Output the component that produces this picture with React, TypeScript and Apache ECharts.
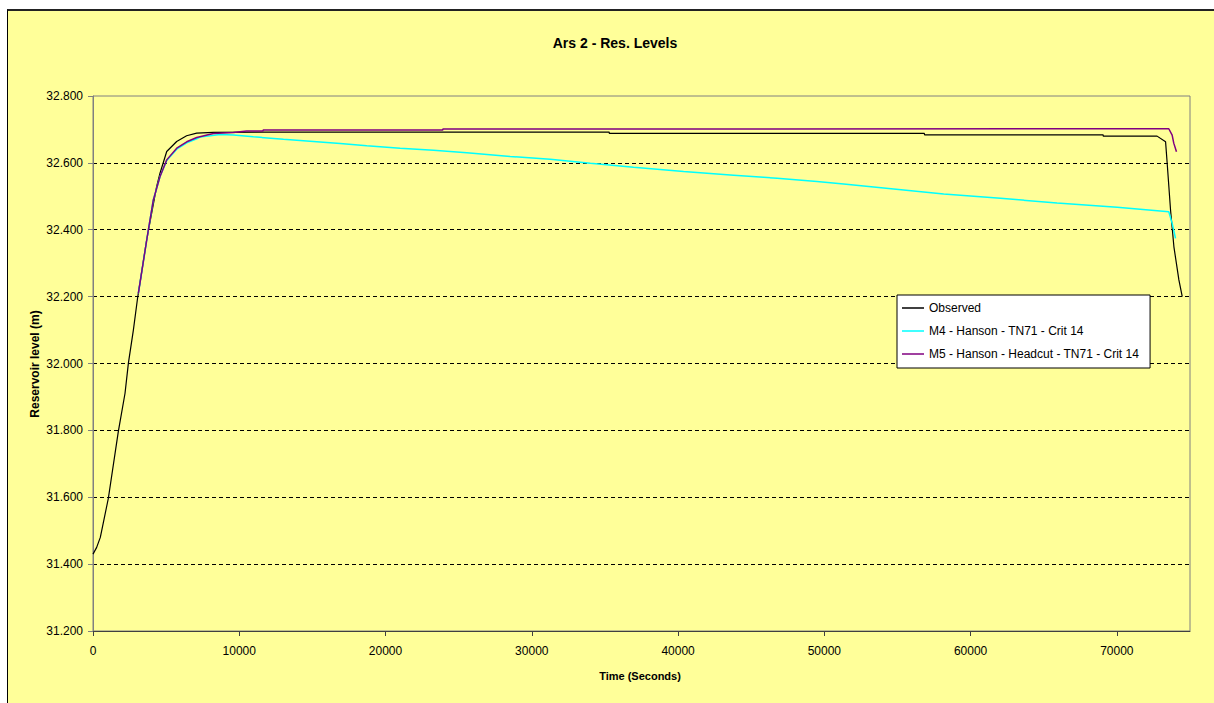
import React, { useEffect, useRef } from "react";
import * as echarts from "echarts";

const titleText = "Ars 2 - Res. Levels";
const xAxisTitle = "Time (Seconds)";
const yAxisTitle = "Reservoir level (m)";
const seriesNames = [
  "Observed",
  "M4 - Hanson - TN71 - Crit 14",
  "M5 - Hanson - Headcut - TN71 - Crit 14",
];

const obsT = [0, 250, 500, 1050, 1730, 2190, 2420, 2760, 3055, 3280, 3670, 3800, 4350, 4580, 5040, 5720, 6400, 7090, 8230, 12800, 35290, 35300, 56840, 56850, 69060, 69070, 72750, 73330, 73440, 73670, 73900, 74240, 74470];
const obsV = [31.43, 31.45, 31.48, 31.597, 31.796, 31.911, 32.001, 32.1, 32.198, 32.26, 32.37, 32.4, 32.529, 32.569, 32.634, 32.664, 32.681, 32.689, 32.691, 32.692, 32.692, 32.688, 32.688, 32.684, 32.684, 32.68, 32.68, 32.663, 32.599, 32.459, 32.349, 32.25, 32.2];

const m4T = [3100, 3280, 3785, 4124, 4583, 5041, 5725, 6409, 7093, 7320, 8690, 9600, 10965, 13020, 14840, 16900, 18720, 21000, 23280, 25560, 28520, 31260, 34000, 36960, 40380, 43800, 46770, 49500, 51320, 54740, 58160, 62040, 65910, 70020, 73550, 73780, 74010];
const m4V = [32.21, 32.26, 32.4, 32.489, 32.559, 32.607, 32.641, 32.66, 32.672, 32.677, 32.685, 32.683, 32.678, 32.671, 32.665, 32.658, 32.651, 32.644, 32.638, 32.63, 32.619, 32.611, 32.599, 32.587, 32.574, 32.563, 32.554, 32.544, 32.537, 32.522, 32.507, 32.494, 32.48, 32.467, 32.454, 32.419, 32.374];

const m5T = [3100, 3280, 3785, 4124, 4583, 5041, 5725, 6409, 7093, 8229, 9600, 10500, 11620, 11630, 23910, 23920, 73550, 73780, 73890, 74075];
const m5V = [32.21, 32.26, 32.4, 32.489, 32.559, 32.609, 32.644, 32.663, 32.676, 32.688, 32.691, 32.695, 32.695, 32.698, 32.698, 32.701, 32.702, 32.683, 32.659, 32.633];

const seriesColors = ["#000000", "#00FFFF", "#800080"];

const zip = (t: number[], v: number[]) => t.map((x, i) => [x, v[i]]);

const FONT = "'Liberation Sans', Arial, sans-serif";

export default function App() {
  const ref = useRef<HTMLDivElement>(null);
  useEffect(() => {
    if (!ref.current) return;
    const chart = echarts.init(ref.current, undefined, { renderer: "svg" });
    const datasets = [zip(obsT, obsV), zip(m4T, m4V), zip(m5T, m5V)];
    chart.setOption({
      animation: false,
      backgroundColor: "#FFFF99",
      grid: {
        left: 85,
        right: 24,
        top: 85,
        bottom: 72,
        show: true,
        borderColor: "#808080",
        borderWidth: 1,
        backgroundColor: "transparent",
      },
      graphic: [
        {
          type: "text",
          x: 607,
          y: 32,
          style: {
            text: titleText,
            font: `bold 14px ${FONT}`,
            fill: "#000",
            align: "center",
            verticalAlign: "middle",
          },
        },
        {
          type: "text",
          x: 632,
          y: 665,
          style: {
            text: xAxisTitle,
            font: `bold 11px ${FONT}`,
            fill: "#000",
            align: "center",
            verticalAlign: "middle",
          },
        },
        {
          type: "text",
          x: 27,
          y: 353,
          rotation: Math.PI / 2,
          style: {
            text: yAxisTitle,
            font: `bold 12px ${FONT}`,
            fill: "#000",
            align: "center",
            verticalAlign: "middle",
          },
        },
      ],
      legend: {
        orient: "vertical",
        left: 889,
        top: 284,
        data: seriesNames.map((n, i) => ({ name: n, icon: "rect", itemStyle: { color: seriesColors[i] } })),
        backgroundColor: "#FFFFFF",
        borderColor: "#000000",
        borderWidth: 1,
        borderRadius: 0,
        padding: [6, 11, 7, 5],
        itemWidth: 22,
        itemHeight: 1.5,
        itemGap: 9,
        textStyle: { fontFamily: FONT, fontSize: 12, color: "#000", lineHeight: 14 },
      },
      xAxis: {
        type: "value",
        min: 0,
        max: 75000,
        interval: 10000,
        axisLine: { show: true, onZero: false, lineStyle: { color: "#404040", width: 1 } },
        axisTick: { show: true, inside: false, length: 5, lineStyle: { color: "#404040" } },
        axisLabel: {
          margin: 14,
          showMaxLabel: false,
          fontFamily: FONT,
          fontSize: 12,
          color: "#000",
          formatter: (v: number) => String(v),
        },
        splitLine: { show: false },
      },
      yAxis: {
        type: "value",
        min: 31.2,
        max: 32.8,
        interval: 0.2,
        axisLine: { show: true, lineStyle: { color: "#808080", width: 1 } },
        axisTick: { show: true, inside: false, length: 5, lineStyle: { color: "#808080" } },
        axisLabel: {
          margin: 10,
          fontFamily: FONT,
          fontSize: 12,
          color: "#000",
          formatter: (v: number) => v.toFixed(3),
        },
        splitLine: {
          show: true,
          showMinLine: false,
          showMaxLine: false,
          lineStyle: { color: "#000", type: [4, 3], width: 1 },
        },
      },
      series: datasets.map((d, i) => ({
        name: seriesNames[i],
        type: "line",
        data: d,
        symbol: "none",
        showSymbol: false,
        lineStyle: { color: seriesColors[i], width: i === 0 ? 1.2 : 1.5 },
        itemStyle: { color: seriesColors[i] },
        z: 2 + i,
      })),
    });
    return () => chart.dispose();
  }, []);
  return (
    <div
      style={{
        position: "fixed",
        left: 7,
        top: 9,
        width: 1207,
        height: 694,
        boxSizing: "border-box",
        borderLeft: "1px solid #000",
        borderTop: "2px solid #222",
        background: "#FFFF99",
      }}
    >
      <div ref={ref} style={{ width: 1206, height: 692 }} />
    </div>
  );
}
